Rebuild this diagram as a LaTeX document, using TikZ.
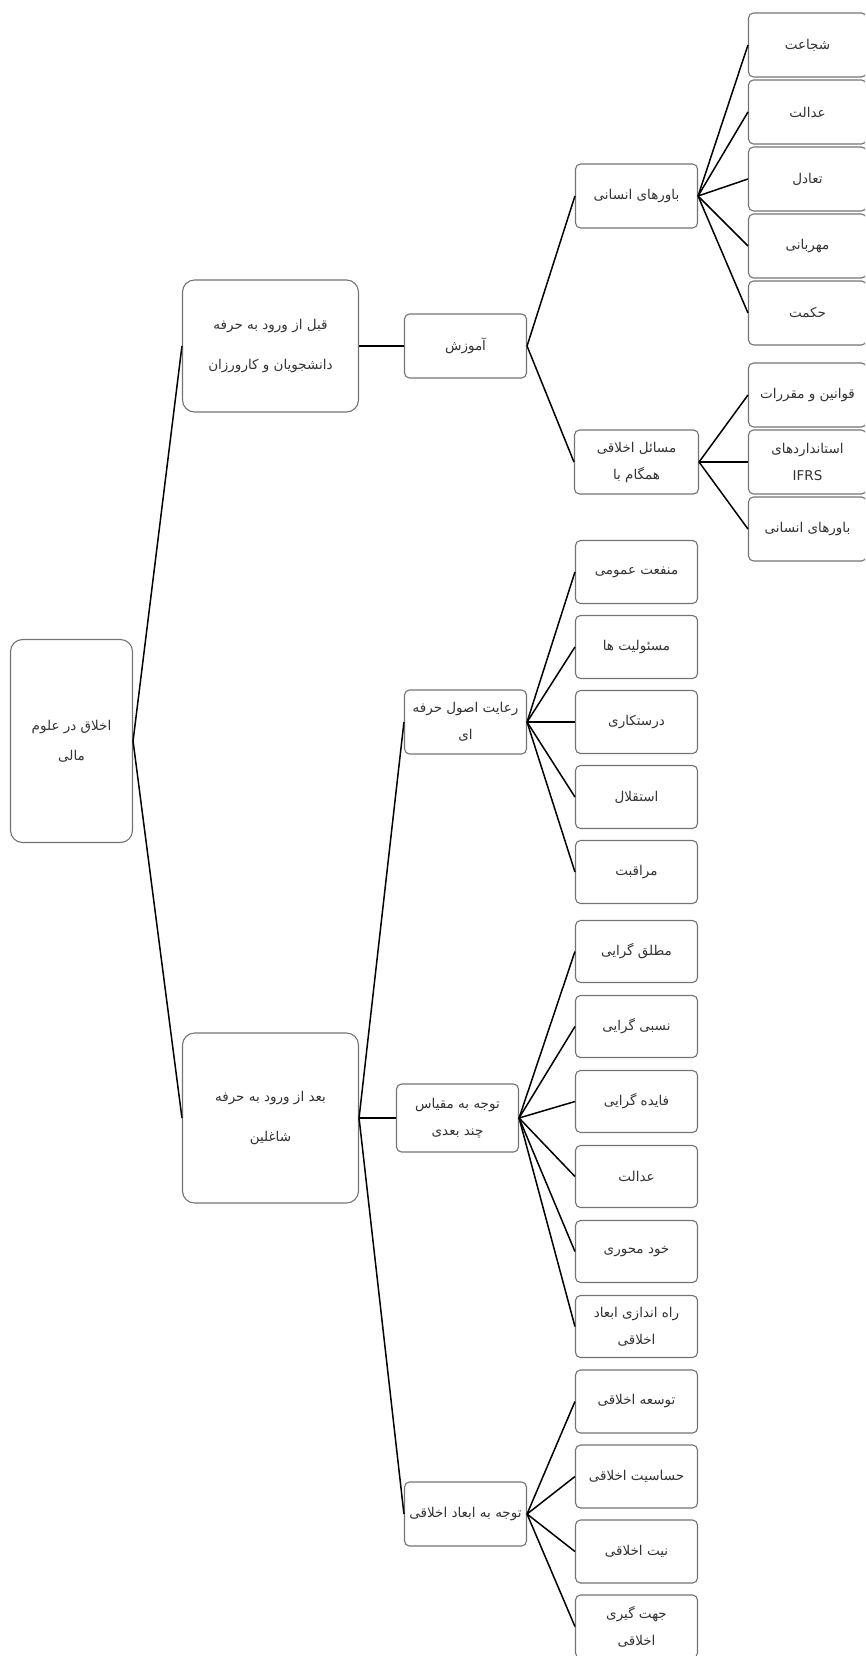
\documentclass[tikz,border=0pt]{standalone}
\usepackage{fontspec}
\newfontfamily\arabicfont[Script=Arabic]{DejaVu Sans}
\TeXXeTstate=1
\newcommand{\fa}[1]{\beginR #1\endR}
\begin{document}
\begin{tikzpicture}[x=1pt,y=-1pt,grow'=right,
  box/.style={draw=black!55,line width=1.1pt,rounded corners=5pt,align=center,
    font=\arabicfont\fontsize{13.5}{27}\selectfont,text=black!80,
    minimum width=122pt,minimum height=64pt,inner sep=2pt},
  bigbox/.style={box,rounded corners=12pt,minimum width=176pt,
    font=\arabicfont\fontsize{13.5}{40}\selectfont},
  edge from parent path={(\tikzparentnode.east) -- (\tikzchildnode.west)},
  edge from parent/.style={draw,line width=1.5pt},
  level 1/.style={level distance=199pt,sibling distance=772pt},
  level 2/.style={level distance=195pt,sibling distance=396pt},
  level 3/.style={level distance=171pt,sibling distance=75pt},
  level 4/.style={level distance=171pt,sibling distance=67pt}]
\useasboundingbox (0,0) rectangle (865,1656);
\clip (0,0) rectangle (865,1656);
\node[box,rounded corners=12pt,minimum height=203pt,font=\arabicfont\fontsize{13.5}{30}\selectfont] (akhlagh) at (71.5,741) {\fa{اخلاق در علوم}\\\fa{مالی}}
  child[yshift=9pt]{node[bigbox,minimum height=132pt] (ghabl) {\fa{قبل از ورود به حرفه}\\\fa{دانشجویان و کارورزان}}
    child{node[box] (amoozesh) {\fa{آموزش}}
      child[sibling distance=266pt,yshift=17pt]{node[box] (bavar) {\fa{باورهای انسانی}}
        child[yshift=17pt]{node[box,minimum width=118pt] (shojaat) {\fa{شجاعت}}}
        child[yshift=17pt]{node[box,minimum width=118pt] (edalat) {\fa{عدالت}}}
        child[yshift=17pt]{node[box,minimum width=118pt] (tadol) {\fa{تعادل}}}
        child[yshift=17pt]{node[box,minimum width=118pt] (mehr) {\fa{مهربانی}}}
        child[yshift=17pt]{node[box,minimum width=118pt] (hekmat) {\fa{حکمت}}}}
      child[sibling distance=266pt,yshift=17pt]{node[box,minimum width=124pt] (masael) {\fa{مسائل اخلاقی}\\\fa{همگام با}}
        child{node[box,minimum width=118pt] (ghavanin) {\fa{قوانین و مقررات}}}
        child{node[box,minimum width=118pt] (ifrs) {\fa{استانداردهای}\\IFRS}}
        child{node[box,minimum width=118pt] (bavar2) {\fa{باورهای انسانی}}}}}}
  child[yshift=9pt]{node[bigbox,minimum height=170pt] (baad) {\fa{بعد از ورود به حرفه}\\\fa{شاغلین}}
    child{node[box] (reayat) {\fa{رعایت اصول حرفه}\\\fa{ای}}
      child{node[box,minimum height=63pt] (manfaat) {\fa{منفعت عمومی}}}
      child{node[box,minimum height=63pt] (masooliat) {\fa{مسئولیت ها}}}
      child{node[box,minimum height=63pt] (dorost) {\fa{درستکاری}}}
      child{node[box,minimum height=63pt] (esteghlal) {\fa{استقلال}}}
      child{node[box,minimum height=63pt] (moraghebat) {\fa{مراقبت}}}}
    child[xshift=-8pt]{node[box,minimum height=68pt] (meghyas) {\fa{توجه به مقیاس}\\\fa{چند بعدی}}
      child[xshift=8pt,yshift=-21pt]{node[box,minimum height=62pt] (motlagh) {\fa{مطلق گرایی}}}
      child[xshift=8pt,yshift=-21pt]{node[box,minimum height=62pt] (nesbi) {\fa{نسبی گرایی}}}
      child[xshift=8pt,yshift=-21pt]{node[box,minimum height=62pt] (faede) {\fa{فایده گرایی}}}
      child[xshift=8pt,yshift=-21pt]{node[box,minimum height=62pt] (edalat2) {\fa{عدالت}}}
      child[xshift=8pt,yshift=-21pt]{node[box,minimum height=62pt] (khod) {\fa{خود محوری}}}
      child[xshift=8pt,yshift=-21pt]{node[box,minimum height=62pt] (rahandazi) {\fa{راه اندازی ابعاد}\\\fa{اخلاقی}}}}
    child{node[box] (abaad) {\fa{توجه به ابعاد اخلاقی}}
      child{node[box,minimum height=63pt] (tosee) {\fa{توسعه اخلاقی}}}
      child{node[box,minimum height=63pt] (hasasiat) {\fa{حساسیت اخلاقی}}}
      child{node[box,minimum height=63pt] (niat) {\fa{نیت اخلاقی}}}
      child{node[box,minimum height=63pt] (jahat) {\fa{جهت گیری}\\\fa{اخلاقی}}}}};
\end{tikzpicture}
\end{document}
